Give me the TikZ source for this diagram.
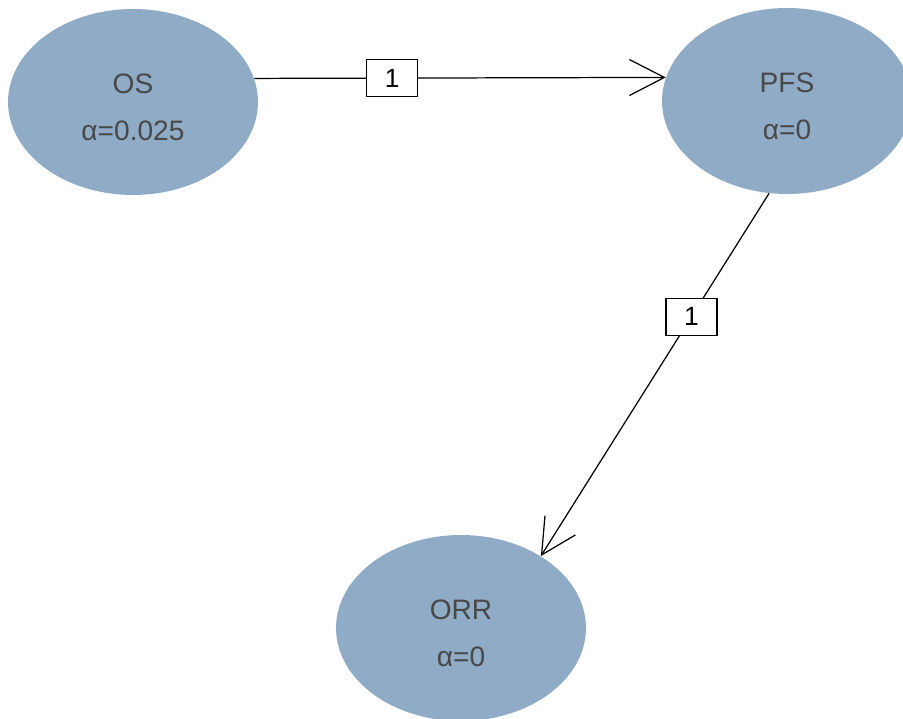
\documentclass[tikz,border=0pt]{standalone}
\usepackage{fontspec}
\setmainfont{Liberation Sans}
\usetikzlibrary{arrows.meta, shapes.geometric}

\definecolor{hypfill}{RGB}{143,171,198}
\definecolor{hyptext}{RGB}{72,72,72}
% strut that pushes the two text lines a little downwards
\newcommand{\hyptop}{\rule{0pt}{17pt}}

\begin{document}
\begin{tikzpicture}[x=0.02cm, y=-0.02cm,
    hyp/.style={ellipse, fill=hypfill, text=hyptext, minimum width=5cm,
      minimum height=3.72cm, inner sep=0pt, align=center,
      font=\fontsize{16}{27}\selectfont},
    trans/.style={-{Straight Barb[length=0.7cm, width=0.72cm]}, line width=0.7pt},
    wgt/.style={draw, fill=white, line width=0.7pt, inner sep=0pt,
      minimum width=1.02cm, minimum height=0.74cm,
      font=\fontsize{15}{18}\selectfont}]
    % Page frame
    \useasboundingbox (0,0) rectangle (903,719);

    % Hypotheses
    \node[hyp] (os)  at (133,102) {\hyptop OS\\α=0.025};
    \node[hyp] (pfs) at (787,101) {\hyptop PFS\\α=0};
    \node[hyp] (orr) at (461,628) {\hyptop ORR\\α=0};

    % Transitions with their weights
    \draw[trans] (os.11) -- node[wgt, pos=0.335] (w1) {1} (pfs.169);
    \draw[trans] (pfs.259) -- node[wgt, pos=0.34] (w2) {1} (orr.42);
\end{tikzpicture}
\end{document}
